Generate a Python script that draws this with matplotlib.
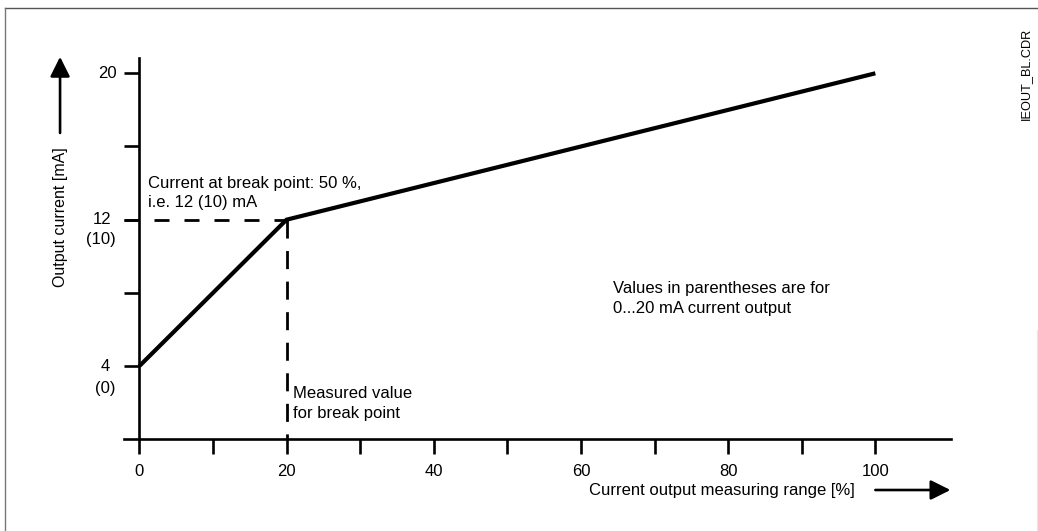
import matplotlib
matplotlib.use("Agg")
import matplotlib.pyplot as plt
from matplotlib.lines import Line2D

plt.rcParams["font.family"] = ["Liberation Sans", "DejaVu Sans"]

# Characteristic of the current output with a break point
range_pct = [0, 20, 100]
current_ma = [4, 12, 20]
break_pct = 20
break_ma = 12

x_ticks = [0, 10, 20, 30, 40, 50, 60, 70, 80, 90, 100]
x_tick_labels = ["0", "", "20", "", "40", "", "60", "", "80", "", "100"]
y_ticks = [4, 8, 12, 16, 20]

FS = 12

fig = plt.figure(figsize=(10.38, 5.31), dpi=100)
ax = fig.add_axes([0, 0, 1, 1])
ax.set_xlim(-18.93, 122.1)
ax.set_ylim(-5.01, 24.005)

# Axes drawn as crossing spines
for side in ("top", "right"):
    ax.spines[side].set_visible(False)
ax.spines["left"].set_position(("data", 0))
ax.spines["bottom"].set_position(("data", 0))
ax.spines["left"].set_bounds(0, 20.84)
ax.spines["bottom"].set_bounds(-2.1, 110.3)
for side in ("left", "bottom"):
    ax.spines[side].set_linewidth(1.9)
    ax.spines[side].set_color("black")

ax.set_xticks(x_ticks)
ax.set_xticklabels(x_tick_labels, fontsize=FS)
ax.tick_params(axis="x", direction="out", length=11, width=1.9, pad=7)
ax.set_yticks(y_ticks)
ax.set_yticklabels([])
ax.tick_params(axis="y", direction="out", length=11, width=1.9)

# y tick labels (mA for 4..20 mA, values in parentheses for 0..20 mA)
ax.text(-4.39, 20, "20", ha="center", va="center", fontsize=FS)
ax.text(-5.07, 12, "12", ha="center", va="center", fontsize=FS)
ax.text(-5.2, 10.9, "(10)", ha="center", va="center", fontsize=FS)
ax.text(-4.66, 4, "4", ha="center", va="center", fontsize=FS)
ax.text(-4.66, 2.8, "(0)", ha="center", va="center", fontsize=FS)

# Characteristic curve
ax.plot(range_pct, current_ma, color="black", lw=3.0, solid_capstyle="butt",
        solid_joinstyle="miter", zorder=3)

# Break point guides
ax.plot([-2.1, break_pct], [break_ma, break_ma], color="black", lw=2.0,
        linestyle=(0, (5.4, 5.4)), zorder=2)
ax.plot([break_pct, break_pct], [break_ma, 0], color="black", lw=2.0,
        linestyle=(0, (6.5, 4.5)), zorder=2)

# Axis titles with arrows
ax.text(-10.77, 12.15, "Output current [mA]", rotation=90, ha="center",
        va="center", fontsize=11.5)
ax.annotate("", xy=(-10.77, 20.9), xytext=(-10.77, 16.74),
            arrowprops=dict(arrowstyle="-|>", lw=1.9, color="black",
                            mutation_scale=30, shrinkA=0, shrinkB=0))
ax.text(97.2, -2.77, "Current output measuring range [%]", ha="right",
        va="center", fontsize=FS)
ax.annotate("", xy=(110.2, -2.77), xytext=(100.0, -2.77),
            arrowprops=dict(arrowstyle="-|>", lw=1.9, color="black",
                            mutation_scale=30, shrinkA=0, shrinkB=0))

# Notes
ax.text(1.2, 13.45, "Current at break point: 50 %,\ni.e. 12 (10) mA",
        ha="left", va="center", fontsize=FS, linespacing=1.38)
ax.text(20.9, 1.95, "Measured value\nfor break point",
        ha="left", va="center", fontsize=FS, linespacing=1.38)
ax.text(64.4, 7.7, "Values in parentheses are for\n0...20 mA current output",
        ha="left", va="center", fontsize=FS, linespacing=1.38)

fig.text(1026 / 1038, 1 - 74 / 531, "IEOUT_BL.CDR", rotation=90,
         ha="center", va="center", fontsize=9.2)

# Drawing frame
fig.add_artist(Line2D([5 / 1038, 1], [1 - 8 / 531] * 2, transform=fig.transFigure,
                      color="#555555", lw=1.0))
fig.add_artist(Line2D([5 / 1038] * 2, [0, 1 - 8 / 531], transform=fig.transFigure,
                      color="#777777", lw=1.0))
fig.add_artist(Line2D([1037 / 1038] * 2, [0, 1 - 330 / 531], transform=fig.transFigure,
                      color="#e6e6e6", lw=0.8))

fig.savefig("out.png", dpi=100)
